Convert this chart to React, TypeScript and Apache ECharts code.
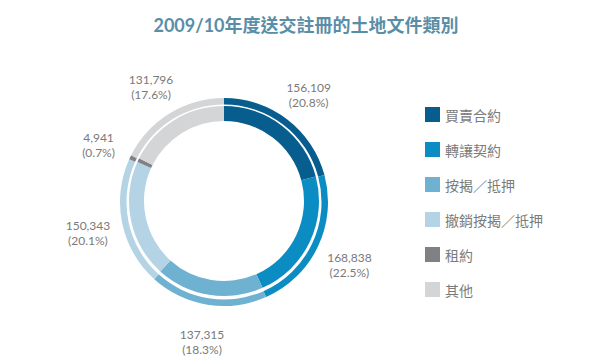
import React, { useEffect, useRef } from "react";
import * as echarts from "echarts";

const TITLE = "2009/10年度送交註冊的土地文件類別";
const categories = ["買賣合約", "轉讓契約", "按揭／抵押", "撤銷按揭／抵押", "租約", "其他"];
const values = [156109, 168838, 137315, 150343, 4941, 131796];
const percents = ["20.8%", "22.5%", "18.3%", "20.1%", "0.7%", "17.6%"];
const colors = ["#065d8e", "#0b8dc3", "#6fb1d1", "#b4d3e4", "#7f8184", "#d4d5d7"];

const fmt = (v: number) => v.toLocaleString("en-US");

export default function App() {
  const ref = useRef<HTMLDivElement>(null);
  useEffect(() => {
    if (!ref.current) return;
    const chart = echarts.init(ref.current, undefined, { renderer: "svg" });
    const ringData = categories.map((name, i) => ({
      name,
      value: values[i],
      itemStyle: { color: colors[i] },
    }));
    const labelData = categories.map((name, i) => ({
      name,
      value: values[i],
      itemStyle: { color: "rgba(0,0,0,0)" },
      label: { formatter: `${fmt(values[i])}\n(${percents[i]})` },
    }));
    chart.setOption({
      animation: false,
      backgroundColor: "#ffffff",
      title: {
        text: TITLE,
        left: "center",
        top: 11,
        textStyle: {
          color: "#5a8ea7",
          fontSize: 18,
          fontWeight: "bold",
          fontFamily: "Lato, 'Noto Sans CJK TC', sans-serif",
        },
      },
      legend: {
        orient: "vertical",
        left: 420,
        top: 102,
        itemWidth: 15,
        itemHeight: 15,
        itemGap: 20,
        icon: "rect",
        data: categories,
        textStyle: {
          color: "#7b7b7b",
          fontSize: 14,
          fontFamily: "'Noto Sans CJK TC', sans-serif",
        },
      },
      series: [
        {
          type: "pie",
          center: [224, 201],
          radius: [80, 95],
          startAngle: 90,
          clockwise: true,
          silent: true,
          label: { show: false },
          labelLine: { show: false },
          data: ringData,
        },
        {
          type: "pie",
          center: [224, 202],
          radius: [97.5, 104],
          startAngle: 90,
          clockwise: true,
          silent: true,
          label: { show: false },
          labelLine: { show: false },
          data: ringData,
        },
        {
          type: "pie",
          center: [224, 205],
          radius: [120, 152],
          startAngle: 90,
          clockwise: true,
          silent: true,
          label: {
            show: true,
            position: "inside",
            color: "#7a7a7a",
            fontSize: 12,
            lineHeight: 15,
            fontFamily: "Lato, sans-serif",
            align: "center",
          },
          labelLine: { show: false },
          data: labelData,
        },
      ],
    });
    return () => chart.dispose();
  }, []);
  return (
    <div
      ref={ref}
      style={{ position: "fixed", left: 0, top: 0, width: 612, height: 359 }}
    />
  );
}
